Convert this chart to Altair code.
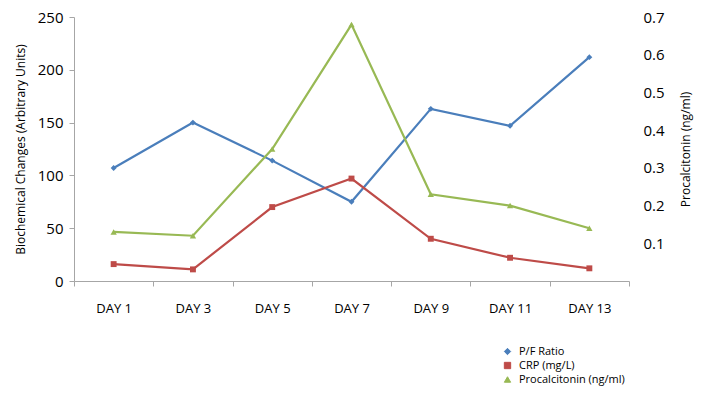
import altair as alt
import pandas as pd

days = ["DAY 1", "DAY 3", "DAY 5", "DAY 7", "DAY 9", "DAY 11", "DAY 13"]
pf_ratio = [107, 150, 114, 75, 163, 147, 212]
crp = [16, 11, 70, 97, 40, 22, 12]
procalcitonin = [0.13, 0.12, 0.35, 0.68, 0.23, 0.20, 0.14]

series_names = ["P/F Ratio", "CRP (mg/L)", "Procalcitonin (ng/ml)"]
colors = ["#4A7EBB", "#BE4B48", "#98B954"]
shapes = ["diamond", "square", "triangle-up"]

left_df = pd.DataFrame(
    {"day": days * 2,
     "value": pf_ratio + crp,
     "series": [series_names[0]] * len(days) + [series_names[1]] * len(days),
     "order": list(range(len(days))) * 2}
)
right_df = pd.DataFrame(
    {"day": days, "value": procalcitonin,
     "series": [series_names[2]] * len(days), "order": list(range(len(days)))}
)

FONT = "Open Sans"
GRAY = "#A6A6A6"

x_enc = alt.X(
    "day:N", sort=days, bandPosition=0.5,
    scale=alt.Scale(type="band", paddingInner=0, paddingOuter=0),
    axis=alt.Axis(title=None, labelAngle=0, domainColor=GRAY, tickColor=GRAY,
                  tickBand="extent", tickSize=5, labelPadding=16, labelFontSize=13,
                  labelColor="#000000", labelFont=FONT, grid=False),
)
color_enc = alt.Color(
    "series:N",
    scale=alt.Scale(domain=series_names, range=colors),
    legend=alt.Legend(title=None, orient="none", legendX=428, legendY=329,
                      labelFont=FONT, labelFontSize=11, labelColor="#000000",
                      symbolSize=40, rowPadding=2, symbolStrokeWidth=1,
                      labelOffset=6),
)
shape_enc = alt.Shape(
    "series:N",
    scale=alt.Scale(domain=series_names, range=shapes),
    legend=None,
)

left = alt.Chart(left_df).mark_line(
    point=alt.OverlayMarkDef(filled=True, size=35), strokeWidth=2.2
).encode(
    x=x_enc,
    y=alt.Y("value:Q", scale=alt.Scale(domain=[0, 250]),
            axis=alt.Axis(title="Biochemical Changes (Arbitrary Units)",
                          values=[0, 50, 100, 150, 200, 250], grid=False,
                          domainColor=GRAY, tickColor=GRAY, tickSize=5,
                          labelFontSize=15, labelFont=FONT, labelColor="#000000",
                          labelPadding=6, titleFont=FONT, titleFontSize=12,
                          titleFontWeight="normal", titleColor="#000000",
                          titlePadding=10)),
    color=color_enc,
    shape=shape_enc,
    order="order:Q",
)

right = alt.Chart(right_df).mark_line(
    point=alt.OverlayMarkDef(filled=True, size=40), strokeWidth=2.2
).encode(
    x=x_enc,
    y=alt.Y("value:Q", scale=alt.Scale(domain=[0, 0.7]),
            axis=alt.Axis(title="Procalcitonin (ng/ml)", orient="right",
                          values=[0.1, 0.2, 0.3, 0.4, 0.5, 0.6, 0.7], format=".1f",
                          grid=False, domain=False, ticks=False,
                          labelFontSize=15, labelFont=FONT, labelColor="#000000",
                          labelPadding=14, titleFont=FONT, titleFontSize=12,
                          titleFontWeight="normal", titleColor="#000000",
                          titleAngle=-90, titlePadding=28)),
    color=color_enc,
    shape=shape_enc,
    order="order:Q",
)

chart = alt.layer(left, right).resolve_scale(y="independent").properties(
    width=555, height=264,
    padding={"left": 66, "top": 9, "right": 67, "bottom": 127},
    autosize=alt.AutoSizeParams(type="none"),
    background="#FFFFFF",
).configure_view(stroke=None)

chart.save("out.html", embed_options={"renderer": "svg", "actions": False})
